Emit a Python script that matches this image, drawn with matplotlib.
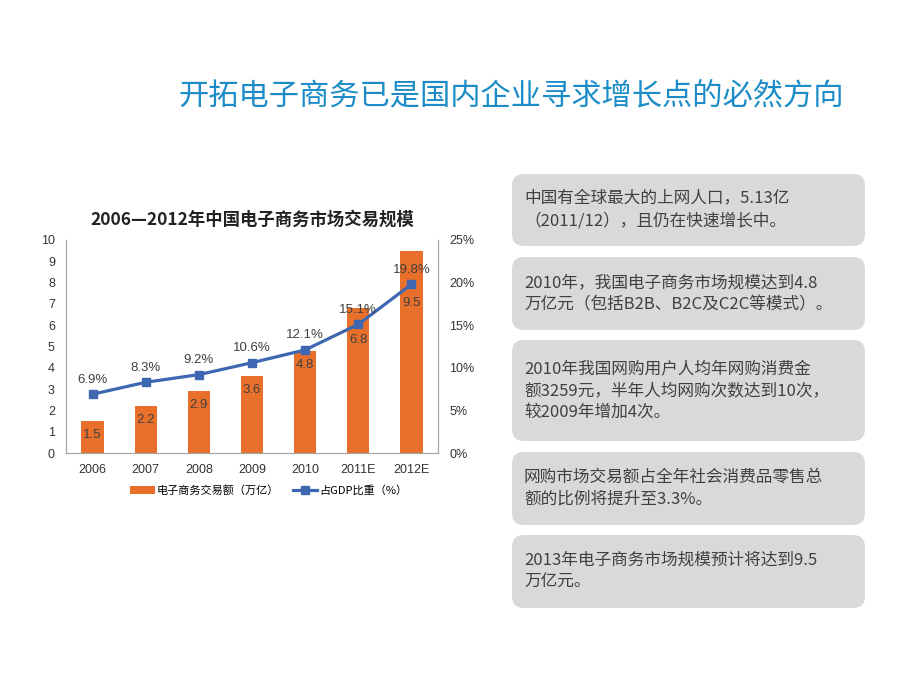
import matplotlib.pyplot as plt
from matplotlib.patches import FancyBboxPatch

plt.rcParams['font.family'] = ['Noto Sans CJK SC', 'DejaVu Sans']

years = ["2006", "2007", "2008", "2009", "2010", "2011E", "2012E"]
trade_volume = [1.5, 2.2, 2.9, 3.6, 4.8, 6.8, 9.5]          # 万亿
gdp_share = [6.9, 8.3, 9.2, 10.6, 12.1, 15.1, 19.8]         # %
left_ticks = list(range(0, 11))
right_ticks = [0, 5, 10, 15, 20, 25]

page_title = "开拓电子商务已是国内企业寻求增长点的必然方向"
chart_title = "2006—2012年中国电子商务市场交易规模"
bar_label = "电子商务交易额（万亿）"
line_label = "占GDP比重（%）"
notes = [
    ["中国有全球最大的上网人口，5.13亿", "（2011/12），且仍在快速增长中。"],
    ["2010年，我国电子商务市场规模达到4.8", "万亿元（包括B2B、B2C及C2C等模式）。"],
    ["2010年我国网购用户人均年网购消费金", "额3259元，半年人均网购次数达到10次，", "较2009年增加4次。"],
    ["网购市场交易额占全年社会消费品零售总", "额的比例将提升至3.3%。"],
    ["2013年电子商务市场规模预计将达到9.5", "万亿元。"],
]

BAR = "#E8702A"
LINE = "#3E67B1"
GREY_TXT = "#404040"
NUM_FONT = ["Liberation Sans", "DejaVu Sans"]

W, H = 920, 690
fig = plt.figure(figsize=(9.2, 6.9), dpi=100)

# overlay in pixel coordinates for slide text and boxes
bg = fig.add_axes([0, 0, 1, 1])
bg.set_xlim(0, W)
bg.set_ylim(H, 0)
bg.axis("off")

bg.text(178, 96, page_title, fontsize=21.8, color="#1B8CC8", va="center", ha="left")

box_tops = [174, 257, 340, 452, 535]
box_bottoms = [246, 330, 441, 525, 608]
for lines, top, bottom in zip(notes, box_tops, box_bottoms):
    bg.add_patch(FancyBboxPatch((512, top), 353, bottom - top,
                                boxstyle="round,pad=0,rounding_size=12",
                                fc="#D9D9D9", ec="none"))
    n = len(lines)
    step = 22
    mid = (top + bottom) / 2
    y0 = mid - step * (n - 1) / 2
    for i, line in enumerate(lines):
        bg.text(524, y0 + i * step, line, fontsize=12, color=GREY_TXT,
                va="center", ha="left")

# chart
ax = fig.add_axes([66 / W, 1 - 453 / H, 372 / W, 213 / H])
x = list(range(len(years)))
ax.bar(x, trade_volume, width=0.42, color=BAR, label=bar_label, zorder=2)
ax.set_xlim(-0.5, len(years) - 0.5)
ax.set_ylim(0, 10)
ax.set_yticks(left_ticks)
ax.set_xticks(x)
ax.set_xticklabels(years)
for lab in ax.get_xticklabels() + ax.get_yticklabels():
    lab.set_family(NUM_FONT)
ax.tick_params(axis="both", length=0, labelsize=9, colors="#333333")
ax.tick_params(axis="y", pad=8)
ax.tick_params(axis="x", pad=8)
ax.spines["top"].set_visible(False)
for s in ["left", "bottom", "right"]:
    ax.spines[s].set_color("#A6A6A6")

# bar value labels sit inside the bar top; the last two were nudged down in the source
bar_label_offsets = [-10, -10, -10, -10, -10, -23, -38]
for xi, v, off in zip(x, trade_volume, bar_label_offsets):
    ax.annotate(f"{v}", (xi, v), xytext=(0, off), textcoords="offset points",
                ha="center", va="center", fontsize=9.5, color=GREY_TXT,
                family=NUM_FONT, zorder=3)

ax2 = ax.twinx()
ax2.plot(x, gdp_share, color=LINE, lw=2.3, marker="s", ms=6, label=line_label, zorder=4)
ax2.set_ylim(0, 25)
ax2.set_yticks(right_ticks)
ax2.set_yticklabels([f"{t}%" for t in right_ticks])
for lab in ax2.get_yticklabels():
    lab.set_family(NUM_FONT)
ax2.tick_params(axis="y", length=0, labelsize=9, colors="#333333", pad=8)
ax2.spines["top"].set_visible(False)
for s in ["left", "bottom", "right"]:
    ax2.spines[s].set_color("#A6A6A6")

for xi, v in zip(x, gdp_share):
    ax2.annotate(f"{v}%", (xi, v), xytext=(0, 10.5), textcoords="offset points",
                 ha="center", va="center", fontsize=9.5, color=GREY_TXT,
                 family=NUM_FONT, zorder=5)

ax.set_title(chart_title, fontsize=12.5, fontweight="bold", color="#222222", pad=11)

h1, l1 = ax.get_legend_handles_labels()
h2, l2 = ax2.get_legend_handles_labels()
ax.legend(h1 + h2, l1 + l2, loc="center", bbox_to_anchor=(0.545, -0.175), ncol=2,
          frameon=False, fontsize=8, handlelength=2.2, handleheight=0.7,
          columnspacing=1.2, handletextpad=0.2)

fig.savefig("out.png", dpi=100)
